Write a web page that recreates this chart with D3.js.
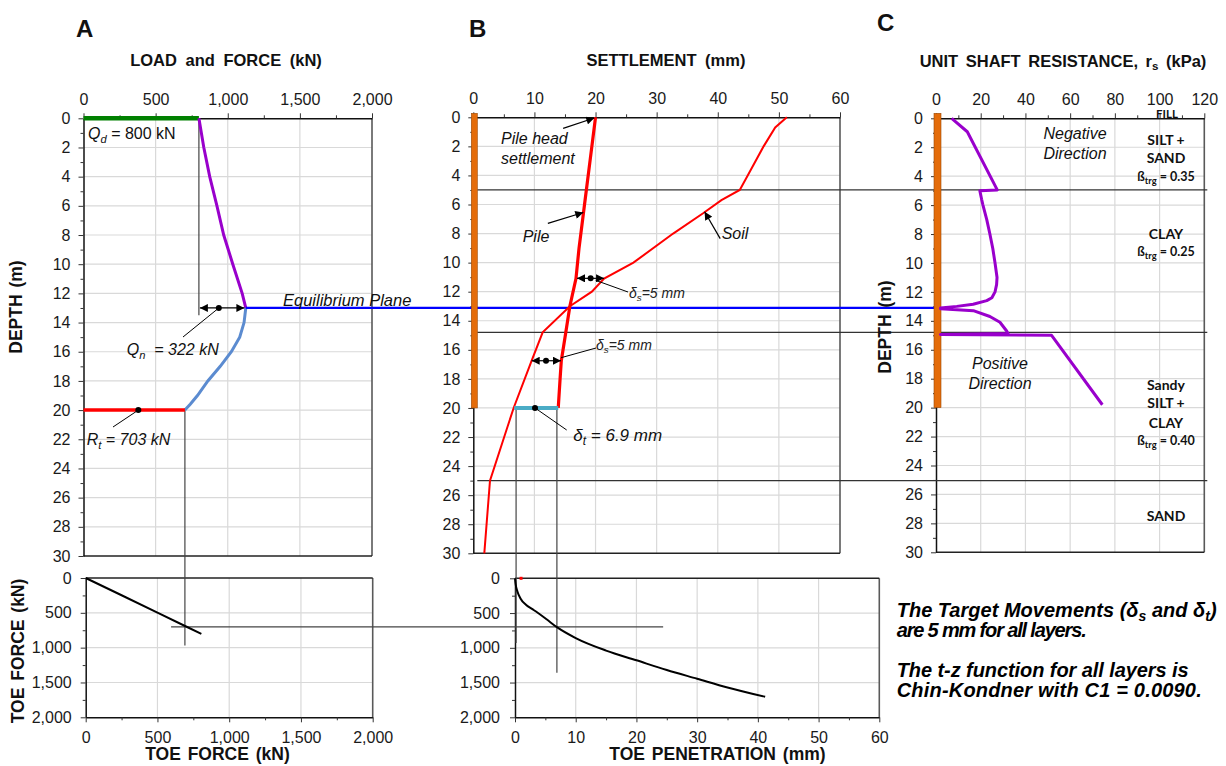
<!DOCTYPE html>
<html><head><meta charset="utf-8">
<script src="https://cdn.jsdelivr.net/npm/d3@7"></script>
<style>body{margin:0;background:#fff}svg{display:block}</style>
</head><body><svg id="chart" width="1226" height="766"></svg>
<script>
// ---------------- DATA ----------------
const forceTicks = [0, 500, 1000, 1500, 2000];
const forceMinor = [250, 750, 1250, 1750];
const depthTicks = [0, 2, 4, 6, 8, 10, 12, 14, 16, 18, 20, 22, 24, 26, 28, 30];
const depthMinor = [1, 3, 5, 7, 9, 11, 13, 15, 17, 19, 21, 23, 25, 27, 29];
const settleTicks = [0, 10, 20, 30, 40, 50, 60];
const settleMinor = [5, 15, 25, 35, 45, 55];
const rsTicks = [0, 20, 40, 60, 80, 100, 120];
const rsMinor = [10, 30, 50, 70, 90, 110];

// Panel A: load / force distribution
const appliedLoad = 800;       // Qd
const dragLoad = 322;          // Qn
const toeResistance = 703;     // Rt
const neutralDepth = 13;       // equilibrium plane
const toeDepth = 20;
const forceDepthUpper = [0, 2, 4, 6, 8, 10, 12, 13];
const forceUpper = [800, 834, 875, 925, 972, 1035, 1100, 1125];
const forceDepthLower = [13, 14, 15, 16, 17, 18, 19, 19.6, 20];
const forceLower = [1125, 1113, 1083, 1025, 948, 862, 790, 740, 703];

// Panel B: settlement
const pileDepth = [0, 3, 6, 9, 11.1, 13, 14.9, 16.75, 18, 20];
const pileSettle = [20, 19.1, 18.2, 17.3, 16.8, 15.8, 15.1, 14.4, 14.2, 13.9];
const soilDepth = [0, 0.7, 2, 4, 5, 5.7, 6.6, 8, 10, 11.1, 12, 13, 14.8, 16.75, 20, 25, 30];
const soilSettle = [51.3, 49.4, 47.5, 44.9, 43.6, 40.6, 37.6, 32.7, 26.2, 21.4, 19.4, 15.8, 11.35, 9.55, 6.6, 2.73, 1.8];
const toeSoilSettle = 6.7;
const toePileSettle = 13.9;
const layerDepths = [5, 14.8, 25];

// Panel C: unit shaft resistance
const rsDepth = [0, 0.93, 4.95, 5.0, 5.6, 6, 7, 8, 9, 10, 11, 11.5, 12, 12.4, 12.6, 12.85, 13.0, 13.12, 13.16, 13.3, 13.7, 14.1, 14.7, 14.87, 14.95, 15.0, 19.8];
const rsValue = [7, 14, 27.4, 19.6, 20.4, 21, 22.7, 24.1, 25.4, 26.4, 27.3, 27.1, 26.4, 25, 22.7, 16.6, 9.3, 2, 2, 16.7, 24.1, 28.6, 31.6, 32.2, 2, 51.7, 74.4];

// Bottom panels: toe response
const toeForceIn = [0, 250, 500, 703, 806];
const toeForceOut = [0, 248, 497, 700, 802];
const toePenetration = [0, 0.1, 0.4, 0.9, 1.8, 2.8, 3.8, 5.2, 6.9, 10, 15, 20, 25, 30, 35, 41.2];
const toeLoad = [0, 80, 190, 290, 380, 440, 500, 590, 703, 860, 1040, 1180, 1320, 1445, 1570, 1705];

// Layer labels (panel C)
const layerNames = [["FILL"], ["SILT +", "SAND"], ["CLAY"], ["Sandy", "SILT +", "CLAY"], ["SAND"]];
const layerBeta = [null, "0.35", "0.25", "0.40", null];

// ---------------- SCALES ----------------
const xA = d3.scaleLinear().domain([0, 2000]).range([83.5, 372]);
const yA = d3.scaleLinear().domain([0, 30]).range([118.3, 556]);
const xA2 = d3.scaleLinear().domain([0, 2000]).range([85.7, 372.7]);
const yA2 = d3.scaleLinear().domain([0, 2000]).range([578, 717.3]);
const xB = d3.scaleLinear().domain([0, 60]).range([473.3, 840]);
const yB = d3.scaleLinear().domain([0, 30]).range([117.3, 553.3]);
const xB2 = d3.scaleLinear().domain([0, 60]).range([515, 879.3]);
const yB2 = d3.scaleLinear().domain([0, 2000]).range([578.3, 717.3]);
const xC = d3.scaleLinear().domain([0, 120]).range([936, 1204.3]);
const yC = d3.scaleLinear().domain([0, 30]).range([118.3, 552.3]);

const FONT = "'Liberation Sans', Arial, sans-serif";
const svg = d3.select("#chart").style("font-family", FONT);
const defs = svg.append("defs");
defs.append("marker").attr("id", "ah").attr("viewBox", "0 0 10 10")
  .attr("refX", 10).attr("refY", 5).attr("markerWidth", 9).attr("markerHeight", 8)
  .attr("markerUnits", "userSpaceOnUse").attr("orient", "auto-start-reverse")
  .append("path").attr("d", "M0,0L10,5L0,10z").attr("fill", "#000");

const fmt = d3.format(",");
const GRID = "#d9d9d9";

function panel(x, y, xt, xm, yt, ym, opts) {
  const g = svg.append("g");
  const [x0, x1] = x.range(), [y0, y1] = y.range();
  g.selectAll(null).data(xt.slice(1, -1)).join("line")
    .attr("x1", d => x(d)).attr("x2", d => x(d)).attr("y1", y0).attr("y2", y1)
    .attr("stroke", GRID).attr("stroke-width", 1.2);
  g.selectAll(null).data(yt.slice(1, -1)).join("line")
    .attr("y1", d => y(d)).attr("y2", d => y(d)).attr("x1", x0).attr("x2", x1)
    .attr("stroke", GRID).attr("stroke-width", 1.2);
  g.append("line").attr("x1", x1).attr("x2", x1).attr("y1", y0).attr("y2", y1).attr("stroke", "#595959").attr("stroke-width", 1.6);
  g.append("line").attr("x1", x0).attr("x2", x1).attr("y1", opts.top ? y1 : y0).attr("y2", opts.top ? y1 : y0).attr("stroke", "#222").attr("stroke-width", 1.5);
  const xAxis = (opts.top ? d3.axisTop(x) : d3.axisBottom(x)).tickValues(xt).tickSize(5).tickPadding(opts.top ? 8 : 9).tickSizeOuter(0).tickFormat(opts.xf || (d => d));
  g.append("g").attr("transform", `translate(0,${opts.top ? y0 : y1})`).call(xAxis);
  const xAm = (opts.top ? d3.axisTop(x) : d3.axisBottom(x)).tickValues(xm).tickSize(3).tickFormat("").tickSizeOuter(0);
  g.append("g").attr("transform", `translate(0,${opts.top ? y0 : y1})`).call(xAm).select(".domain").remove();
  const yAxis = d3.axisLeft(y).tickValues(yt).tickSize(5).tickPadding(opts.yPad || 8).tickSizeOuter(0).tickFormat(opts.yf || (d => d));
  g.append("g").attr("transform", `translate(${x0},0)`).call(yAxis);
  const yAm = d3.axisLeft(y).tickValues(ym).tickSize(3).tickFormat("").tickSizeOuter(0);
  g.append("g").attr("transform", `translate(${x0},0)`).call(yAm).select(".domain").remove();
  g.selectAll(".tick text").attr("font-size", 16).attr("font-family", FONT).attr("fill", "#1a1a1a");
  g.selectAll(".domain").attr("stroke", "#111").attr("stroke-width", 1.5);
  g.selectAll(".tick line").attr("stroke", "#333");
  return g;
}

panel(xA, yA, forceTicks, forceMinor, depthTicks, depthMinor, {top: true, xf: fmt});
panel(xB, yB, settleTicks, settleMinor, depthTicks, depthMinor, {top: true});
panel(xC, yC, rsTicks, rsMinor, depthTicks, depthMinor, {top: true});
panel(xA2, yA2, forceTicks, forceMinor, forceTicks, forceMinor, {top: false, xf: fmt, yf: fmt, yPad: 9});
panel(xB2, yB2, settleTicks, settleMinor, forceTicks, forceMinor, {top: false, yf: fmt, yPad: 10});

const line = (x, y) => d3.line().x(d => x(d[0])).y(d => y(d[1]));
const zip = (a, b) => a.map((v, i) => [v, b[i]]);

// ---------- cross-panel reference lines ----------
const g = svg.append("g");
g.selectAll(null).data(layerDepths).join("line")
  .attr("x1", xB(0) + 4).attr("x2", xC(120) + 3).attr("y1", d => yB(d)).attr("y2", d => yB(d))
  .attr("stroke", "#333").attr("stroke-width", 1.2);
g.append("line").attr("x1", xA(appliedLoad)).attr("x2", xA(appliedLoad)).attr("y1", yA(0)).attr("y2", yA(13.5)).attr("stroke", "#444").attr("stroke-width", 1.2);
g.append("line").attr("x1", xA(toeResistance)).attr("x2", xA(toeResistance)).attr("y1", yA(toeDepth)).attr("y2", yA2(970)).attr("stroke", "#444").attr("stroke-width", 1.2);
g.append("line").attr("x1", xA2(595)).attr("x2", xB2(24.4)).attr("y1", yA2(toeResistance)).attr("y2", yA2(toeResistance)).attr("stroke", "#444").attr("stroke-width", 1.2);
g.append("line").attr("x1", xB(7.0)).attr("x2", xB(7.0)).attr("y1", yB(toeDepth)).attr("y2", yB2(930)).attr("stroke", "#444").attr("stroke-width", 1.2);
g.append("line").attr("x1", xB2(6.9)).attr("x2", xB2(6.9)).attr("y1", yB(toeDepth)).attr("y2", yB2(1360)).attr("stroke", "#444").attr("stroke-width", 1.2);

// ---------- Panel A curves ----------
svg.append("line").attr("x1", xA(0)).attr("x2", xA(appliedLoad)).attr("y1", yA(0)).attr("y2", yA(0)).attr("stroke", "#008000").attr("stroke-width", 4.5);
svg.append("path").attr("d", line(xA, yA)(zip(forceUpper, forceDepthUpper))).attr("fill", "none").attr("stroke", "#9900cc").attr("stroke-width", 3);
svg.append("path").attr("d", line(xA, yA)(zip(forceLower, forceDepthLower))).attr("fill", "none").attr("stroke", "#5b8bd0").attr("stroke-width", 3);
svg.append("line").attr("x1", xA(0)).attr("x2", xA(toeResistance)).attr("y1", yA(toeDepth)).attr("y2", yA(toeDepth)).attr("stroke", "#ff0000").attr("stroke-width", 3.5);
svg.append("line").attr("x1", xA(1125)).attr("x2", xC(0) - 1).attr("y1", yA(neutralDepth)).attr("y2", yA(neutralDepth)).attr("stroke", "#0000ff").attr("stroke-width", 2.2);

// ---------- Panel B curves ----------
svg.append("rect").attr("x", xB(0) - 2).attr("y", yB(0) - 4).attr("width", 6).attr("height", yB(toeDepth) - yB(0) + 4)
  .attr("fill", "#e46c0a").attr("stroke", "#9c4a06").attr("stroke-width", 0.6);
svg.append("path").attr("d", line(xB, yB)(zip(soilSettle, soilDepth))).attr("fill", "none").attr("stroke", "#ff0000").attr("stroke-width", 2);
svg.append("path").attr("d", line(xB, yB)(zip(pileSettle, pileDepth))).attr("fill", "none").attr("stroke", "#ff0000").attr("stroke-width", 3.2);
svg.append("line").attr("x1", xB(toeSoilSettle)).attr("x2", xB(toePileSettle)).attr("y1", yB(toeDepth)).attr("y2", yB(toeDepth)).attr("stroke", "#4bacc6").attr("stroke-width", 4);

// ---------- Panel C ----------
svg.append("rect").attr("x", xC(0) - 2).attr("y", yC(0) - 5).attr("width", 7).attr("height", yC(toeDepth) - yC(0) + 5)
  .attr("fill", "#e46c0a").attr("stroke", "#9c4a06").attr("stroke-width", 0.6);
svg.append("path").attr("d", line(xC, yC)(zip(rsValue, rsDepth))).attr("fill", "none").attr("stroke", "#9900cc").attr("stroke-width", 3).attr("stroke-linejoin", "round");

// ---------- Bottom panels ----------
svg.append("path").attr("d", line(xA2, yA2)(zip(toeForceIn, toeForceOut))).attr("fill", "none").attr("stroke", "#000").attr("stroke-width", 2);
svg.append("path").attr("d", line(xB2, yB2).curve(d3.curveMonotoneX)(zip(toePenetration, toeLoad))).attr("fill", "none").attr("stroke", "#000").attr("stroke-width", 2);
svg.append("rect").attr("x", xB2(1) - 1.5).attr("y", yB2(0) - 1.5).attr("width", 3).attr("height", 3).attr("fill", "#ff0000");

// ---------- Annotations ----------
function arrow(x1, y1, x2, y2, dbl) {
  const l = svg.append("line").attr("x1", x1).attr("y1", y1).attr("x2", x2).attr("y2", y2)
    .attr("stroke", "#000").attr("stroke-width", 1.2).attr("marker-end", "url(#ah)");
  if (dbl) l.attr("marker-start", "url(#ah)");
}
function dot(x, y) { svg.append("circle").attr("cx", x).attr("cy", y).attr("r", 3).attr("fill", "#000"); }
function leader(x1, y1, x2, y2) { svg.append("line").attr("x1", x1).attr("y1", y1).attr("x2", x2).attr("y2", y2).attr("stroke", "#000").attr("stroke-width", 1); }
function txt(x, y, parts, a) {
  const t = svg.append("text").attr("x", x).attr("y", y);
  Object.entries(a || {}).forEach(([k, v]) => t.attr(k, v));
  let shift = 0;
  parts.forEach(p => {
    if (typeof p === "string") { const s = t.append("tspan").text(p); if (shift) { s.attr("dy", -shift); shift = 0; } }
    else { const dy = p.dy || 4; const s = t.append("tspan").text(p.sub).attr("font-size", p.size || "70%").attr("dy", dy); shift = dy; }
  });
  return t;
}
const ital = {"font-style": "italic", "font-size": 16, fill: "#111"};

// Qn arrow
const qnY = yA(neutralDepth);
arrow(xA(appliedLoad) + 1, qnY, xA(appliedLoad + dragLoad) - 1, qnY, true);
dot(xA(938), qnY);
leader(xA(938), qnY, 183, 337);
txt(126.7, 355, ["Q", {sub: "n"}, "  = 322 kN"], ital).attr("xml:space", "preserve");
const qd = txt(88, 139, ["Q", {sub: "d", dy: 4}, " = 800 kN"], {"font-size": 16, fill: "#111"});
qd.selectAll("tspan").filter((d, i) => i < 2).attr("font-style", "italic");
dot(xA(380), yA(toeDepth));
leader(xA(380), yA(toeDepth), 113, 427);
txt(86.7, 445, ["R", {sub: "t"}, " = 703 kN"], ital);
txt(283, 305.5, ["Equilibrium Plane"], Object.assign({}, ital, {"font-size": 16.5}));

// Panel B annotations
arrow(xB(14.7), yB(0.76), xB(19.8), yB(0.05));
txt(501, 144, ["Pile head"], ital);
txt(501, 164, ["settlement"], ital);
arrow(xB(12.2), yB(7.3), xB(18.0), yB(6.55));
txt(522.7, 242, ["Pile"], ital);
arrow(xB(40.4), yB(8.35), xB(37.85), yB(6.5));
txt(721.7, 239, ["Soil"], ital);
const ds1 = yB(11.08);
arrow(xB(16.8) + 1, ds1, xB(21.4), ds1, true);
dot(xB(19.2), ds1);
leader(xB(19.2) + 5, ds1 + 2, 628, 292);
txt(629, 297.5, ["δ", {sub: "s", dy: 3}, "=5 mm"], {"font-style": "italic", "font-size": 14, fill: "#222"});
const ds2 = yB(16.75);
arrow(xB(9.55), ds2, xB(14.35), ds2, true);
dot(xB(11.9), ds2);
leader(xB(14.35), ds2 - 3, 596, 348);
txt(596, 350, ["δ", {sub: "s", dy: 3}, "=5 mm"], {"font-style": "italic", "font-size": 14, fill: "#222"});
dot(xB(10.1), yB(toeDepth));
leader(xB(10.1), yB(toeDepth), 566.7, 430);
txt(573.3, 441, ["δ", {sub: "t"}, " = 6.9 mm"], Object.assign({}, ital, {"font-size": 17}));

// Panel C annotations
txt(1075, 139, ["Negative"], Object.assign({}, ital, {"text-anchor": "middle"}));
txt(1075, 159, ["Direction"], Object.assign({}, ital, {"text-anchor": "middle"}));
txt(1000, 369, ["Positive"], Object.assign({}, ital, {"text-anchor": "middle"}));
txt(1000, 388.7, ["Direction"], Object.assign({}, ital, {"text-anchor": "middle"}));

const LFONT = "Lato, 'Open Sans', sans-serif";
const lab = {"font-family": LFONT, "font-weight": "bold", "font-size": 14, "text-anchor": "middle", fill: "#111"};
const layerLabelY = [[118], [145, 163], [238.5], [389.5, 407.5, 427.5], [521]];
const betaY = [null, 181, 256, 445, null];
layerNames.forEach((names, i) => {
  names.forEach((n, j) => txt(i === 0 ? 1167 : 1166, layerLabelY[i][j], [n], Object.assign({}, lab, i === 0 ? {"font-size": 11.5} : {})));
  if (layerBeta[i]) txt(1166, betaY[i], ["ß", {sub: "trg", dy: 3, size: "75%"}, " = " + layerBeta[i]], Object.assign({}, lab, {"font-size": 12.5}));
});

// ---------- Titles ----------
const bold = {"font-weight": "bold", fill: "#111"};
txt(76, 37, ["A"], Object.assign({}, bold, {"font-size": 24}));
txt(469, 37, ["B"], Object.assign({}, bold, {"font-size": 24}));
txt(877, 31, ["C"], Object.assign({}, bold, {"font-size": 24}));
txt(226, 66, ["LOAD and FORCE (kN)"], Object.assign({}, bold, {"font-size": 16.5, "text-anchor": "middle", "word-spacing": 4}));
txt(666, 66, ["SETTLEMENT (mm)"], Object.assign({}, bold, {"font-size": 16.5, "text-anchor": "middle", "word-spacing": 4}));
txt(1063, 67, ["UNIT SHAFT RESISTANCE, r", {sub: "s", dy: 3}, " (kPa)"], Object.assign({}, bold, {"font-size": 16.5, "text-anchor": "middle", "word-spacing": 3}));
const axT = Object.assign({}, bold, {"font-size": 17.5, "text-anchor": "middle", "word-spacing": 2});
txt(0, 0, ["DEPTH (m)"], Object.assign({}, axT, {transform: "translate(22,307) rotate(-90)"}));
txt(0, 0, ["DEPTH (m)"], Object.assign({}, axT, {transform: "translate(891,327) rotate(-90)"}));
txt(0, 0, ["TOE FORCE (kN)"], Object.assign({}, axT, {transform: "translate(24,651) rotate(-90)"}));
txt(217.5, 760, ["TOE FORCE (kN)"], axT);
txt(717.5, 759.5, ["TOE PENETRATION (mm)"], axT);

// ---------- Notes ----------
const note = {"font-weight": "bold", "font-style": "italic", "font-size": 20, fill: "#000"};
txt(896.7, 617.3, ["The Target Movements (δ", {sub: "s"}, " and δ", {sub: "t"}, ")"], Object.assign({}, note, {textLength: 320, lengthAdjust: "spacing"}));
txt(896.7, 637.3, ["are 5 mm for all layers."], Object.assign({}, note, {textLength: 190, lengthAdjust: "spacing"}));
txt(896.7, 676.7, ["The t-z function for all layers is"], Object.assign({}, note, {textLength: 292, lengthAdjust: "spacing"}));
txt(896.7, 696.7, ["Chin-Kondner with C1 = 0.0090."], Object.assign({}, note, {textLength: 305, lengthAdjust: "spacing"}));
</script></body></html>
